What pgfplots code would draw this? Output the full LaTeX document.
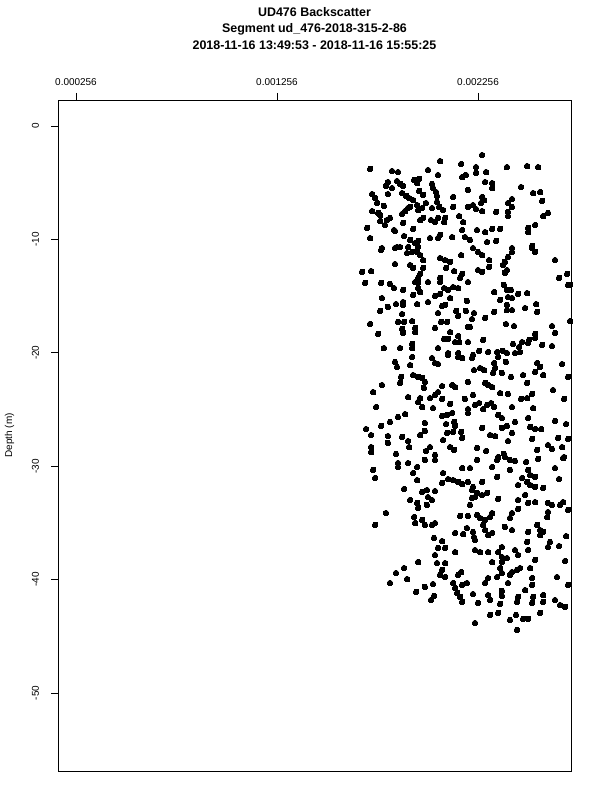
\documentclass[border=0pt]{standalone}
\usepackage{pgfplots}
\pgfplotsset{compat=1.18}
\usepackage{fontspec}
\setmainfont{Liberation Sans}
\begin{document}
\begin{tikzpicture}[x=1bp,y=1bp]
\path[use as bounding box] (0,0) rectangle (600,800);
\begin{axis}[
  at={(58bp,29bp)}, anchor=south west,
  scale only axis, width=513bp, height=671bp,
  xmin=0.0001665, xmax=0.0027186, ymin=-56.88, ymax=2.293,
  axis line style={line width=0.8bp},
  xtick={0.000256,0.001256,0.002256},
  xticklabels={0.000256,0.001256,0.002256},
  ytick={-50,-40,-30,-20,-10,0},
  yticklabels={-50,-40,-30,-20,-10,0},
  xtick pos=upper, xticklabel pos=upper,
  ytick pos=left,
  tick align=outside, major tick length=7bp,
  tick style={line width=0.8bp, black},
  minor tick num=0,
  scaled x ticks=false,
  xticklabel style={anchor=base, inner sep=0pt, yshift=7bp, font=\fontsize{10}{12}\selectfont},
  yticklabel style={rotate=90, anchor=base, inner sep=0pt, yshift=12bp, font=\fontsize{10}{12}\selectfont},
  clip=true,
]
\addplot[only marks, mark=*, mark size=2.8pt, black, mark options={fill=black, draw=black, line width=0pt}] table {
x y
0.002276 -2.56
0.001719 -3.79
0.001828 -3.97
0.001858 -4.06
0.002067 -3.09
0.002172 -3.35
0.002246 -3.62
0.002246 -4.14
0.002296 -4.06
0.002400 -3.62
0.002500 -3.53
0.002555 -3.62
0.002007 -3.88
0.002057 -4.32
0.002177 -4.50
0.002196 -4.32
0.001808 -4.94
0.001798 -5.29
0.001853 -4.85
0.001868 -5.11
0.001883 -5.29
0.001938 -4.76
0.001953 -5.03
0.001963 -4.67
0.002027 -5.11
0.002032 -5.47
0.002047 -5.82
0.002052 -6.17
0.002291 -4.94
0.002326 -5.03
0.002326 -5.47
0.002470 -5.38
0.001828 -5.47
0.001729 -6.00
0.001744 -6.35
0.001754 -6.79
0.001808 -6.00
0.001878 -5.91
0.001898 -6.17
0.001913 -6.35
0.001963 -5.73
0.001983 -6.08
0.002206 -5.64
0.002132 -6.26
0.002276 -6.26
0.002286 -6.53
0.002271 -6.79
0.002530 -5.91
0.002565 -5.82
0.002575 -6.61
0.002425 -6.44
0.002405 -6.79
0.002425 -7.14
0.001933 -6.53
0.001953 -6.97
0.001997 -6.79
0.002052 -6.70
0.002062 -7.14
0.001788 -7.05
0.001729 -7.50
0.001759 -7.67
0.001769 -7.85
0.001878 -7.76
0.001893 -7.50
0.001908 -7.23
0.001918 -7.14
0.001958 -7.41
0.001978 -7.23
0.002027 -7.23
0.002082 -7.41
0.002132 -7.14
0.002206 -7.14
0.002231 -6.97
0.002246 -7.32
0.002276 -7.50
0.002346 -7.58
0.002405 -7.58
0.002405 -7.94
0.002604 -7.67
0.002580 -7.94
0.002162 -7.94
0.002182 -8.47
0.001769 -8.38
0.001803 -8.29
0.001818 -8.11
0.001793 -8.73
0.001883 -8.55
0.001838 -9.17
0.001968 -8.29
0.001983 -8.11
0.002022 -8.29
0.002042 -8.47
0.002057 -8.11
0.002092 -8.11
0.002087 -8.47
0.001933 -9.08
0.001704 -8.99
0.001719 -9.88
0.001843 -9.26
0.001888 -9.70
0.002017 -9.88
0.002057 -9.88
0.002067 -9.61
0.002127 -9.79
0.002177 -9.17
0.002191 -9.79
0.002216 -10.05
0.002251 -9.17
0.002291 -9.35
0.002326 -9.08
0.002366 -9.08
0.002301 -10.23
0.002346 -10.14
0.002505 -8.99
0.002505 -9.35
0.002540 -8.73
0.002525 -10.58
0.001918 -10.05
0.001943 -10.32
0.001958 -10.14
0.001853 -10.67
0.001778 -10.76
0.002425 -10.76
0.001774 -10.93
0.001843 -10.76
0.001868 -10.67
0.001903 -11.20
0.001928 -11.11
0.001953 -11.11
0.001968 -11.38
0.001983 -11.82
0.001908 -10.67
0.001958 -10.67
0.002067 -11.64
0.002092 -11.82
0.002117 -11.99
0.002172 -11.38
0.002231 -10.76
0.002256 -11.11
0.002276 -11.38
0.002311 -11.82
0.002425 -11.11
0.002405 -11.55
0.002390 -11.99
0.002380 -12.26
0.002400 -12.70
0.002390 -12.96
0.002525 -10.76
0.002540 -11.11
0.002639 -11.82
0.001843 -12.17
0.001918 -12.26
0.001933 -12.52
0.001983 -12.52
0.002097 -12.52
0.002137 -12.79
0.002256 -12.70
0.002276 -12.87
0.002311 -12.43
0.001679 -12.87
0.001724 -12.79
0.001694 -13.84
0.001774 -13.84
0.001818 -13.93
0.001838 -14.29
0.001968 -13.05
0.001958 -13.40
0.001943 -13.76
0.001958 -13.84
0.002007 -13.76
0.002067 -13.40
0.002067 -13.76
0.002087 -14.29
0.002107 -14.46
0.002132 -14.20
0.002177 -13.05
0.002167 -13.40
0.002206 -13.76
0.002157 -14.29
0.002385 -14.02
0.002400 -14.46
0.002420 -14.46
0.002336 -14.64
0.002659 -13.40
0.002699 -13.05
0.002704 -14.02
0.001883 -14.46
0.001933 -14.90
0.001968 -14.64
0.001958 -14.29
0.002042 -14.99
0.002067 -14.81
0.002117 -15.17
0.002201 -15.43
0.001778 -15.17
0.001808 -15.96
0.001848 -15.70
0.001883 -15.52
0.001883 -15.78
0.001953 -15.70
0.002007 -15.52
0.002092 -15.78
0.002077 -15.87
0.001769 -16.31
0.001878 -16.58
0.002057 -16.49
0.002147 -16.31
0.002157 -16.75
0.002196 -16.31
0.002236 -16.49
0.002226 -17.02
0.002216 -17.72
0.002291 -16.93
0.002336 -16.40
0.002366 -15.34
0.002405 -15.08
0.002425 -15.17
0.002400 -15.78
0.002400 -16.23
0.002425 -16.23
0.002455 -14.81
0.002500 -14.73
0.002490 -16.05
0.002545 -15.70
0.002550 -16.40
0.001719 -17.46
0.001759 -18.34
0.001858 -17.28
0.001888 -17.28
0.001928 -17.20
0.001878 -17.90
0.001883 -18.25
0.001943 -17.81
0.001943 -18.17
0.002042 -17.81
0.002072 -17.28
0.002102 -17.28
0.002117 -18.17
0.002157 -18.52
0.002206 -17.72
0.002395 -17.46
0.002435 -17.64
0.002540 -18.34
0.002540 -18.69
0.002624 -17.64
0.002639 -18.25
0.002714 -17.20
0.001788 -19.58
0.001868 -19.58
0.001928 -19.22
0.001928 -19.58
0.002057 -19.58
0.002087 -18.78
0.002107 -18.78
0.002142 -19.05
0.002162 -19.05
0.002206 -19.05
0.002281 -18.87
0.002261 -19.84
0.002306 -19.93
0.002351 -19.93
0.002380 -19.84
0.002430 -19.22
0.002475 -19.05
0.002510 -18.87
0.002575 -19.31
0.002624 -19.40
0.002460 -19.49
0.002505 -19.13
0.002714 -14.02
0.002107 -20.02
0.002157 -20.02
0.002027 -20.46
0.002057 -20.99
0.002042 -20.90
0.002107 -20.19
0.002157 -20.37
0.002177 -20.46
0.002226 -20.46
0.002231 -20.19
0.002356 -20.37
0.002400 -20.02
0.002440 -20.02
0.002465 -19.93
0.001843 -20.81
0.001853 -21.25
0.001928 -20.37
0.001918 -21.08
0.002336 -20.90
0.002341 -21.34
0.002395 -20.81
0.002550 -20.90
0.002565 -21.25
0.002674 -20.99
0.001873 -22.13
0.001868 -22.66
0.001933 -21.96
0.001958 -22.13
0.001978 -22.22
0.001992 -22.57
0.001987 -23.10
0.002236 -21.52
0.002266 -21.34
0.002286 -21.52
0.002331 -21.78
0.002375 -21.78
0.002420 -22.13
0.002480 -21.96
0.002540 -21.69
0.002580 -21.96
0.002704 -22.13
0.002206 -22.57
0.002291 -22.66
0.002306 -22.84
0.002326 -23.02
0.002500 -22.66
0.001778 -22.84
0.001734 -23.46
0.002077 -22.93
0.002127 -22.84
0.002142 -23.02
0.002057 -23.46
0.002042 -23.72
0.002017 -23.99
0.001968 -23.99
0.001958 -24.34
0.001908 -23.90
0.002077 -24.07
0.002191 -24.07
0.002231 -23.72
0.002366 -23.55
0.002405 -23.63
0.002470 -24.07
0.002500 -23.99
0.002525 -23.63
0.002629 -23.28
0.002684 -24.07
0.001749 -24.78
0.001893 -25.40
0.001858 -25.66
0.001818 -26.10
0.001978 -24.78
0.002032 -24.87
0.002117 -24.51
0.002127 -25.31
0.002102 -25.48
0.002077 -25.57
0.002206 -24.96
0.002206 -25.31
0.002241 -24.60
0.002261 -24.43
0.002281 -24.96
0.002301 -24.60
0.002321 -24.43
0.002336 -24.78
0.002356 -25.48
0.002375 -25.75
0.002425 -24.78
0.002530 -24.87
0.002440 -26.10
0.002505 -25.75
0.002639 -26.01
0.002694 -26.28
0.001774 -26.45
0.001699 -26.72
0.001724 -27.25
0.001992 -26.19
0.001992 -26.89
0.001968 -27.25
0.002097 -26.28
0.002102 -27.07
0.002137 -26.10
0.002142 -26.45
0.002132 -26.98
0.002172 -26.98
0.002177 -27.51
0.002276 -26.63
0.002316 -27.25
0.002341 -27.34
0.002375 -26.63
0.002400 -26.45
0.002425 -27.07
0.002515 -26.54
0.002540 -26.72
0.002570 -26.72
0.001808 -27.34
0.001878 -27.42
0.001908 -27.78
0.001913 -28.31
0.002082 -27.69
0.002405 -27.78
0.002525 -27.60
0.002604 -28.13
0.002624 -28.48
0.002654 -27.51
0.002674 -28.31
0.002704 -27.60
0.001724 -28.31
0.001724 -28.75
0.001848 -28.92
0.001997 -28.66
0.002017 -28.31
0.002042 -29.01
0.002117 -28.31
0.002137 -28.57
0.002251 -28.39
0.002296 -28.66
0.002356 -29.19
0.002385 -28.92
0.002550 -28.57
0.002684 -29.19
0.001808 -27.95
0.001858 -29.72
0.001858 -30.07
0.001908 -29.72
0.001953 -30.07
0.001992 -29.45
0.002042 -29.45
0.001734 -30.33
0.001744 -31.04
0.001933 -30.60
0.001953 -31.22
0.002082 -30.60
0.002077 -31.48
0.002177 -30.16
0.002216 -30.16
0.002326 -30.07
0.002351 -29.45
0.002390 -29.19
0.002415 -29.45
0.002440 -29.54
0.002415 -30.33
0.002251 -29.45
0.002495 -29.63
0.002555 -29.36
0.002639 -30.16
0.002679 -29.28
0.002351 -30.95
0.002505 -30.33
0.002515 -30.78
0.002540 -30.95
0.002659 -31.13
0.002107 -31.13
0.002132 -31.22
0.002157 -31.39
0.002177 -31.57
0.002206 -31.39
0.002231 -31.83
0.002226 -32.10
0.002251 -32.36
0.002241 -32.72
0.002276 -31.39
0.002475 -31.04
0.002500 -31.39
0.002515 -31.66
0.002540 -31.83
0.002455 -31.66
0.002580 -31.92
0.001888 -32.01
0.001978 -32.27
0.002002 -32.10
0.002042 -32.19
0.002007 -32.72
0.002027 -32.98
0.001918 -32.98
0.001953 -33.24
0.001958 -33.68
0.002002 -33.42
0.002216 -33.42
0.002226 -32.80
0.002276 -32.54
0.002301 -32.36
0.002356 -32.89
0.002455 -32.98
0.002490 -32.54
0.002505 -33.24
0.002540 -33.16
0.002604 -33.24
0.002624 -33.42
0.002664 -33.42
0.002679 -33.16
0.002455 -33.77
0.002425 -34.13
0.002415 -34.57
0.002604 -34.04
0.002600 -34.48
0.002704 -33.86
0.001798 -34.13
0.001938 -34.48
0.001943 -35.01
0.001978 -34.74
0.001992 -35.18
0.002027 -35.18
0.002042 -35.01
0.002167 -34.39
0.002206 -34.39
0.002251 -34.30
0.002266 -34.57
0.002291 -34.74
0.002316 -34.48
0.002326 -34.13
0.002281 -35.18
0.002291 -35.63
0.002306 -36.07
0.002326 -35.89
0.001744 -35.18
0.002201 -35.45
0.002182 -35.98
0.002142 -35.89
0.002231 -35.80
0.002236 -36.25
0.002241 -36.51
0.002390 -35.36
0.002425 -35.63
0.002550 -35.18
0.002565 -35.63
0.002580 -35.80
0.002565 -36.07
0.002505 -35.80
0.002500 -36.68
0.002614 -36.68
0.002604 -37.13
0.002659 -37.04
0.002694 -36.16
0.002037 -36.33
0.002077 -36.60
0.002092 -37.21
0.002057 -37.21
0.002042 -37.83
0.002142 -37.57
0.002241 -37.39
0.002266 -37.57
0.002306 -37.57
0.002375 -37.13
0.002356 -37.57
0.002375 -38.01
0.002400 -38.10
0.002440 -37.39
0.002455 -37.83
0.002505 -37.39
0.002540 -38.27
0.001958 -38.45
0.002052 -38.54
0.002092 -38.54
0.002326 -38.45
0.002689 -38.36
0.002077 -39.15
0.002067 -39.59
0.002375 -38.45
0.002366 -38.98
0.002375 -39.42
0.002425 -39.33
0.002450 -39.15
0.002465 -38.98
0.001848 -39.42
0.001888 -38.98
0.001903 -39.95
0.001818 -40.30
0.002092 -39.77
0.002157 -39.59
0.002172 -39.33
0.002306 -39.86
0.002351 -39.77
0.002415 -39.59
0.002525 -39.86
0.002515 -38.98
0.002649 -39.77
0.002704 -40.47
0.001948 -41.09
0.001992 -40.65
0.002032 -40.39
0.002132 -40.30
0.002177 -40.47
0.002201 -40.30
0.002142 -40.74
0.002152 -41.18
0.002167 -41.53
0.002177 -41.97
0.002291 -40.30
0.002405 -40.30
0.002490 -40.92
0.002525 -40.47
0.002037 -41.44
0.002022 -41.80
0.002231 -41.27
0.002306 -41.36
0.002316 -41.80
0.002375 -41.00
0.002375 -41.44
0.002366 -42.15
0.002455 -41.53
0.002450 -41.97
0.002530 -41.53
0.002525 -42.06
0.002580 -41.36
0.002580 -41.97
0.002639 -41.80
0.002664 -42.24
0.002689 -42.41
0.002256 -42.06
0.002565 -42.94
0.002356 -42.94
0.002316 -43.12
0.002445 -43.12
0.002415 -43.56
0.002480 -43.47
0.002505 -43.47
0.002241 -43.83
0.002450 -44.44
};
\end{axis}
\node[anchor=base, font=\bfseries\fontsize{12.5}{15}\selectfont] at (314.5,783) {UD476 Backscatter};
\node[anchor=base, font=\bfseries\fontsize{12.5}{15}\selectfont] at (314.5,767) {Segment ud\_476-2018-315-2-86};
\node[anchor=base, font=\bfseries\fontsize{12.5}{15}\selectfont] at (314.5,750) {2018-11-16 13:49:53 - 2018-11-16 15:55:25};
\node[rotate=90, anchor=base, font=\fontsize{10}{12}\selectfont] at (12,364.5) {Depth (m)};
\end{tikzpicture}
\end{document}
